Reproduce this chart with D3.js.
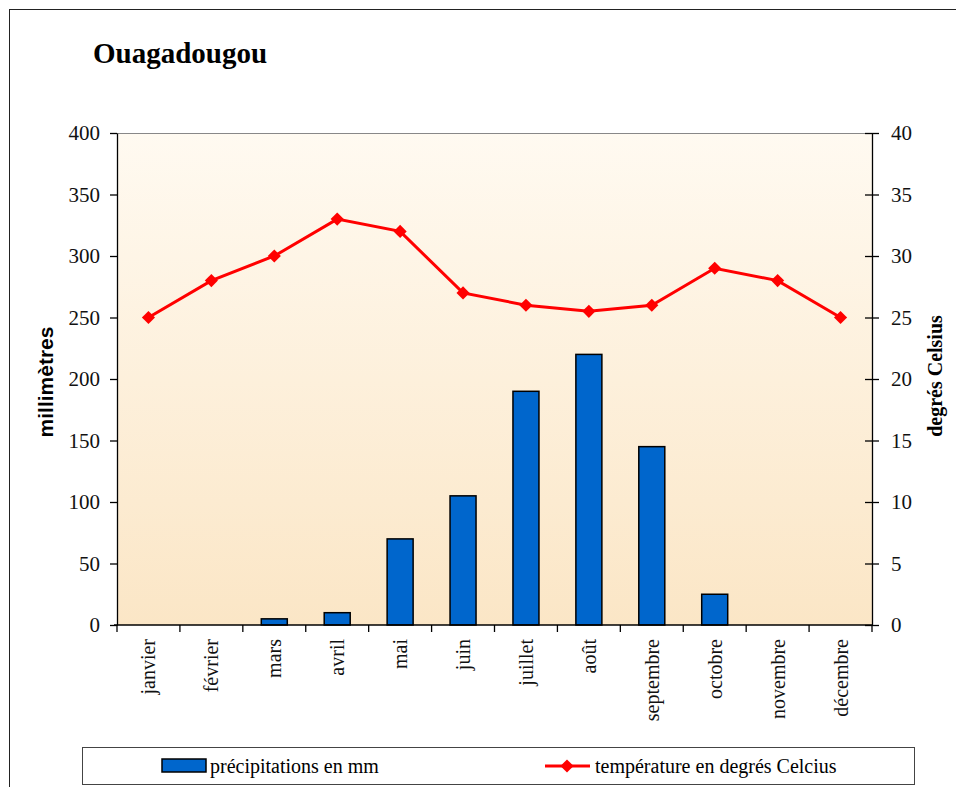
<!DOCTYPE html>
<html>
<head>
<meta charset="utf-8">
<script src="https://cdn.jsdelivr.net/npm/d3@7"></script>
<style>
  body { margin: 0; background: #fff; }
  svg { display: block; }
  .tick text { font-family: "Liberation Serif", serif; font-size: 21px; fill: #111; }
</style>
</head>
<body>
<div id="chart"></div>
<script>
/* data */
var months = ["janvier", "février", "mars", "avril", "mai", "juin", "juillet", "août", "septembre", "octobre", "novembre", "décembre"];
var rain = [0, 0, 5, 10, 70, 105, 190, 220, 145, 25, 0, 0];
var temp = [25, 28, 30, 33, 32, 27, 26, 25.5, 26, 29, 28, 25];
var rainTicks = [0, 50, 100, 150, 200, 250, 300, 350, 400];
var tempTicks = [0, 5, 10, 15, 20, 25, 30, 35, 40];

/* layout */
var W = 956, H = 787;
var pLeft = 117, pRight = 872, pTop = 133, pBottom = 625;

var svg = d3.select("#chart").append("svg")
    .attr("width", W)
    .attr("height", H);

// outer frame
svg.append("rect")
    .attr("x", 9.5).attr("y", 9.5)
    .attr("width", 980).attr("height", 820)
    .attr("fill", "none").attr("stroke", "#222").attr("stroke-width", 1);

// background gradient
var grad = svg.append("defs").append("linearGradient")
    .attr("id", "bg").attr("x1", 0).attr("y1", 0).attr("x2", 0).attr("y2", 1);
grad.append("stop").attr("offset", "0%").attr("stop-color", "#fffaf1");
grad.append("stop").attr("offset", "100%").attr("stop-color", "#fbe6c6");

var x = d3.scaleBand().domain(months).range([pLeft, pRight]);
var yL = d3.scaleLinear().domain([0, 400]).range([pBottom, pTop]);
var yR = d3.scaleLinear().domain([0, 40]).range([pBottom, pTop]);

function cx(i) { return x(months[i]) + x.bandwidth() / 2; }

svg.append("rect")
    .attr("x", pLeft).attr("y", pTop)
    .attr("width", pRight - pLeft).attr("height", pBottom - pTop)
    .attr("fill", "url(#bg)");
svg.append("line")
    .attr("x1", pLeft).attr("x2", pRight).attr("y1", pTop + 0.5).attr("y2", pTop + 0.5)
    .attr("stroke", "#888");

// bars
var bw = 26;
svg.append("g").selectAll("rect")
    .data(rain.map(function (v, i) { return { v: v, i: i }; }).filter(function (d) { return d.v > 0; }))
    .join("rect")
    .attr("x", function (d) { return cx(d.i) - bw / 2; })
    .attr("y", function (d) { return yL(d.v); })
    .attr("width", bw)
    .attr("height", function (d) { return pBottom - yL(d.v); })
    .attr("fill", "#0066cc")
    .attr("stroke", "#000")
    .attr("stroke-width", 1.5);

// left axis
svg.append("g")
    .attr("transform", "translate(" + pLeft + ",0)")
    .call(d3.axisLeft(yL).tickValues(rainTicks).tickSize(7).tickSizeOuter(0).tickPadding(10))
    .call(function (g) { g.selectAll("line,path").attr("stroke", "#000").attr("stroke-width", 1.3); });

// right axis (ticks cross)
var ra = svg.append("g")
    .attr("transform", "translate(" + pRight + ",0)")
    .call(d3.axisRight(yR).tickValues(tempTicks).tickSize(7).tickSizeOuter(0).tickPadding(12))
    .call(function (g) { g.selectAll("line,path").attr("stroke", "#000").attr("stroke-width", 1.3); });
ra.selectAll(".tick line").attr("x1", -7);

// x axis
var xa = svg.append("g")
    .attr("transform", "translate(0," + pBottom + ")");
xa.append("line")
    .attr("x1", pLeft - 3).attr("x2", pRight)
    .attr("stroke", "#000").attr("stroke-width", 1.3);
xa.selectAll("line.cat")
    .data(d3.range(months.length + 1))
    .join("line")
    .attr("class", "cat")
    .attr("x1", function (i) { return pLeft + i * x.bandwidth(); })
    .attr("x2", function (i) { return pLeft + i * x.bandwidth(); })
    .attr("y1", 0).attr("y2", 7)
    .attr("stroke", "#000").attr("stroke-width", 1.3);
xa.selectAll("text")
    .data(months)
    .join("text")
    .attr("transform", function (d, i) { return "translate(" + (cx(i) + 7) + ",14) rotate(-90)"; })
    .attr("text-anchor", "end")
    .attr("font-family", "Liberation Serif, serif")
    .attr("font-size", 20)
    .attr("fill", "#111")
    .text(function (d) { return d; });

// temperature line
var line = d3.line()
    .x(function (d, i) { return cx(i); })
    .y(function (d) { return yR(d); });
svg.append("path")
    .datum(temp)
    .attr("d", line)
    .attr("fill", "none")
    .attr("stroke", "#ff0000")
    .attr("stroke-width", 3);
svg.append("g").selectAll("path")
    .data(temp)
    .join("path")
    .attr("transform", function (d, i) { return "translate(" + cx(i) + "," + yR(d) + ")"; })
    .attr("d", d3.symbol().type(d3.symbolDiamond2).size(110))
    .attr("fill", "#ff0000");

// titles
svg.append("text")
    .attr("x", 93).attr("y", 63)
    .attr("font-family", "Liberation Serif, serif")
    .attr("font-weight", "bold")
    .attr("font-size", 29)
    .text("Ouagadougou");

svg.append("text")
    .attr("transform", "translate(53," + ((pTop + pBottom) / 2 + 3) + ") rotate(-90)")
    .attr("text-anchor", "middle")
    .attr("font-family", "Liberation Sans, Arial, sans-serif")
    .attr("font-weight", "bold")
    .attr("font-size", 21)
    .text("millimètres");

svg.append("text")
    .attr("transform", "translate(942," + ((pTop + pBottom) / 2 - 3) + ") rotate(-90)")
    .attr("text-anchor", "middle")
    .attr("font-family", "Liberation Serif, serif")
    .attr("font-weight", "bold")
    .attr("font-size", 20)
    .text("degrés Celsius");

// legend
var lg = svg.append("g");
lg.append("rect")
    .attr("x", 82.5).attr("y", 747.5).attr("width", 832).attr("height", 37)
    .attr("fill", "#fff").attr("stroke", "#444").attr("stroke-width", 1);
lg.append("rect")
    .attr("x", 162).attr("y", 759).attr("width", 44).attr("height", 13)
    .attr("fill", "#0066cc").attr("stroke", "#000").attr("stroke-width", 1.5);
lg.append("text")
    .attr("x", 210).attr("y", 773)
    .attr("font-family", "Liberation Serif, serif").attr("font-size", 20)
    .text("précipitations en mm");
lg.append("line")
    .attr("x1", 545).attr("x2", 590).attr("y1", 766).attr("y2", 766)
    .attr("stroke", "#ff0000").attr("stroke-width", 3);
lg.append("path")
    .attr("transform", "translate(567,766)")
    .attr("d", d3.symbol().type(d3.symbolDiamond2).size(110))
    .attr("fill", "#ff0000");
lg.append("text")
    .attr("x", 595).attr("y", 773)
    .attr("font-family", "Liberation Serif, serif").attr("font-size", 20)
    .text("température en degrés Celcius");
</script>
</body>
</html>
